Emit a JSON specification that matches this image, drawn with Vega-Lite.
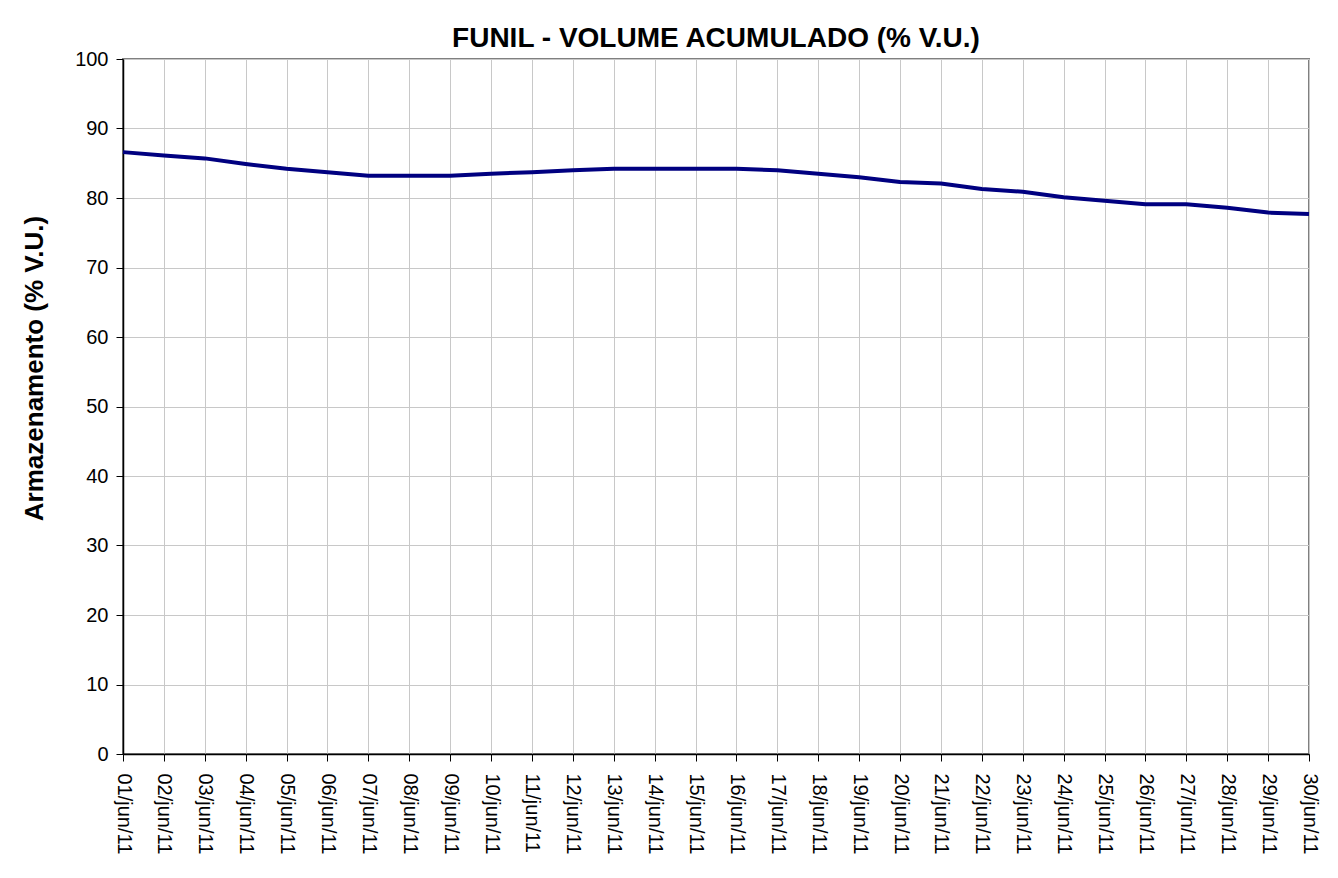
{
  "$schema": "https://vega.github.io/schema/vega-lite/v6.json",
  "autosize": {"type": "none"},
  "padding": {"left": 123, "top": 59, "right": 29, "bottom": 124},
  "width": 1186,
  "height": 695,
  "background": "white",
  "title": {
    "text": "FUNIL - VOLUME ACUMULADO (% V.U.)",
    "font": "Liberation Sans",
    "fontSize": 28,
    "fontWeight": "bold",
    "color": "black",
    "anchor": "middle",
    "baseline": "alphabetic",
    "offset": -26
  },
  "data": {
    "values": [
      {"data": "01/jun/11", "armazenamento": 86.6},
      {"data": "02/jun/11", "armazenamento": 86.1},
      {"data": "03/jun/11", "armazenamento": 85.7},
      {"data": "04/jun/11", "armazenamento": 84.9},
      {"data": "05/jun/11", "armazenamento": 84.2},
      {"data": "06/jun/11", "armazenamento": 83.7},
      {"data": "07/jun/11", "armazenamento": 83.2},
      {"data": "08/jun/11", "armazenamento": 83.2},
      {"data": "09/jun/11", "armazenamento": 83.2},
      {"data": "10/jun/11", "armazenamento": 83.5},
      {"data": "11/jun/11", "armazenamento": 83.7},
      {"data": "12/jun/11", "armazenamento": 84.0},
      {"data": "13/jun/11", "armazenamento": 84.2},
      {"data": "14/jun/11", "armazenamento": 84.2},
      {"data": "15/jun/11", "armazenamento": 84.2},
      {"data": "16/jun/11", "armazenamento": 84.2},
      {"data": "17/jun/11", "armazenamento": 84.0},
      {"data": "18/jun/11", "armazenamento": 83.5},
      {"data": "19/jun/11", "armazenamento": 83.0},
      {"data": "20/jun/11", "armazenamento": 82.3},
      {"data": "21/jun/11", "armazenamento": 82.1},
      {"data": "22/jun/11", "armazenamento": 81.3},
      {"data": "23/jun/11", "armazenamento": 80.9},
      {"data": "24/jun/11", "armazenamento": 80.1},
      {"data": "25/jun/11", "armazenamento": 79.6},
      {"data": "26/jun/11", "armazenamento": 79.1},
      {"data": "27/jun/11", "armazenamento": 79.1},
      {"data": "28/jun/11", "armazenamento": 78.6},
      {"data": "29/jun/11", "armazenamento": 77.9},
      {"data": "30/jun/11", "armazenamento": 77.7}
    ]
  },
  "mark": {"type": "line", "color": "#000080", "strokeWidth": 4, "strokeJoin": "round"},
  "encoding": {
    "x": {
      "field": "data",
      "type": "ordinal",
      "sort": null,
      "scale": {"type": "point", "padding": 0},
      "axis": {
        "title": null,
        "labelAngle": 90,
        "labelAlign": "left",
        "labelBaseline": "middle",
        "labelFont": "Liberation Sans",
        "labelFontSize": 20,
        "labelColor": "black",
        "labelPadding": 12,
        "labelOverlap": false,
        "tickSize": 7,
        "tickColor": "black",
        "domainColor": "black",
        "domainWidth": 1.5,
        "grid": true,
        "gridColor": "#c8c8c8",
        "gridWidth": 1
      }
    },
    "y": {
      "field": "armazenamento",
      "type": "quantitative",
      "scale": {"domain": [0, 100], "nice": false},
      "axis": {
        "title": "Armazenamento (% V.U.)",
        "titleFont": "Liberation Sans",
        "titleFontSize": 26,
        "titleFontWeight": "bold",
        "titleColor": "black",
        "titlePadding": 27,
        "titleY": 309,
        "values": [0, 10, 20, 30, 40, 50, 60, 70, 80, 90, 100],
        "labelFont": "Liberation Sans",
        "labelFontSize": 20,
        "labelColor": "black",
        "labelPadding": 8,
        "tickSize": 7,
        "tickColor": "black",
        "domainColor": "black",
        "domainWidth": 1.5,
        "grid": true,
        "gridColor": "#c8c8c8",
        "gridWidth": 1
      }
    }
  },
  "config": {
    "view": {"stroke": "#808080", "strokeWidth": 2}
  }
}
